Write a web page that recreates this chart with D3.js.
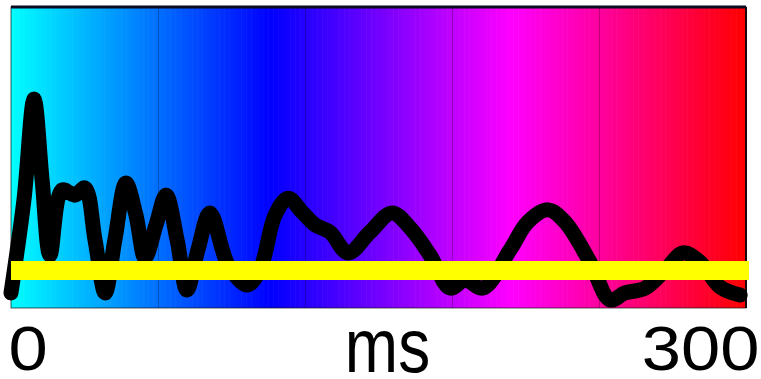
<!DOCTYPE html>
<html>
<head>
<meta charset="utf-8">
<script src="https://cdn.jsdelivr.net/npm/d3@7"></script>
<style>
  body { margin: 0; background: #fff; }
  svg { display: block; }
</style>
</head>
<body>
<div id="chart"></div>
<script>
// data (ms, amplitude in arbitrary units 0-100)
const timeMs = [0, 5.3, 9.4, 12.7, 15.9, 20.8, 26.1, 30.2, 34.3, 38.4, 42.4, 46.9, 51, 54.7, 59.2, 63.3, 67.8, 71.8, 76.3, 81.2, 88.6, 96.3, 101.6, 107.8, 113.1, 118.8, 124.1, 130.2, 137.6, 146.5, 155.5, 162.9, 171, 179.2, 185.3, 192.7, 203.7, 211, 219.2, 226.1, 236.3, 244.5, 250.6, 258.8, 267, 274.3, 281.2, 289.4, 297.6];
const amplitude = [5, 36, 69.4, 42.5, 17.6, 39.2, 37.5, 39.9, 22.6, 5, 22.6, 41.5, 30.9, 16.6, 27.6, 37.5, 22.6, 6, 19.3, 31.6, 14.3, 7.6, 12.6, 30.9, 36.5, 31.9, 27.6, 25.2, 18.3, 25.2, 31.6, 26.6, 17.6, 6.6, 9.3, 6.6, 19.3, 28.6, 32.6, 28.6, 15.3, 2.7, 5, 6.6, 12.6, 18.3, 15.3, 7, 4.3];
const threshold = 12.5;
const gridTicks = [60, 120, 180, 240];
const labelTicks = [0, 300];
const axisTitle = "ms";
const colorStops = [0, 106, 204, 300];
const colorRange = ["#00ffff", "#0000ff", "#ff00ff", "#ff0000"];

const W = 761, H = 379;
const margin = {top: 7, right: 15, bottom: 71, left: 11};
const width = W - margin.left - margin.right;
const height = H - margin.top - margin.bottom;
const font = "Liberation Sans, Arial, sans-serif";

const svg = d3.select("#chart").append("svg")
    .attr("width", W)
    .attr("height", H)
  .append("g")
    .attr("transform", `translate(${margin.left},${margin.top})`);

const x = d3.scaleLinear().domain([0, 300]).range([0, width]);
const y = d3.scaleLinear().domain([0, 100]).range([height, 0]);
const color = d3.scaleLinear().domain(colorStops).range(colorRange);

// colour strips behind the trace
const strips = d3.range(0, 300, 1);
svg.selectAll(".strip")
    .data(strips)
    .enter().append("rect")
    .attr("class", "strip")
    .attr("x", d => x(d))
    .attr("y", 0)
    .attr("width", x(1) - x(0) + 0.6)
    .attr("height", height)
    .attr("fill", d => color(d + 0.5));

// faint grid lines
svg.append("g")
    .attr("transform", `translate(0,${height})`)
    .call(d3.axisBottom(x).tickValues(gridTicks).tickSize(-height).tickFormat(""))
    .call(g => g.select(".domain").remove())
    .call(g => g.selectAll("line").attr("stroke", "#000").attr("stroke-opacity", 0.25));

// frame
svg.append("rect")
    .attr("width", width)
    .attr("height", height)
    .attr("fill", "none")
    .attr("stroke", "#111")
    .attr("stroke-opacity", 0.7)
    .attr("stroke-width", 1);
svg.append("line")
    .attr("x1", 0).attr("x2", width)
    .attr("y1", 0).attr("y2", 0)
    .attr("stroke", "#0a0a20")
    .attr("stroke-width", 3);
svg.append("line")
    .attr("x1", width).attr("x2", width)
    .attr("y1", 0).attr("y2", height)
    .attr("stroke", "#1a0a10")
    .attr("stroke-width", 2);

// trace
const points = timeMs.map((t, i) => [t, amplitude[i]]);
const line = d3.line()
    .x(d => x(d[0]))
    .y(d => y(d[1]))
    .curve(d3.curveCatmullRom);

svg.append("path")
    .datum(points)
    .attr("fill", "none")
    .attr("stroke", "#000")
    .attr("stroke-width", 15)
    .attr("stroke-linejoin", "round")
    .attr("stroke-linecap", "round")
    .attr("d", line);

// yellow threshold
svg.append("line")
    .attr("x1", x(0)).attr("x2", x(300) + 3)
    .attr("y1", y(threshold)).attr("y2", y(threshold))
    .attr("stroke", "#ffff00")
    .attr("stroke-width", 19);

// labels
const axis = svg.append("g")
    .attr("transform", `translate(0,${height})`)
    .call(d3.axisBottom(x).tickValues(labelTicks).tickSize(0).tickPadding(0).tickFormat(d3.format("d")));
axis.select(".domain").remove();
axis.selectAll("text")
    .attr("dy", null)
    .attr("x", 0)
    .attr("y", 0)
    .attr("transform", (d, i) => i === 0 ? "translate(-3,62) scale(1.12,1)" : "translate(13,62) scale(1.12,1)")
    .attr("font-family", font)
    .attr("font-size", "63px")
    .attr("fill", "#000")
    .attr("text-anchor", (d, i) => i === 0 ? "start" : "end");

svg.append("text")
    .attr("transform", `translate(${width / 2 + 9},${height + 64}) scale(1,1.18)`)
    .attr("text-anchor", "middle")
    .attr("font-family", font)
    .attr("font-size", "64px")
    .attr("fill", "#000")
    .text(axisTitle);
</script>
</body>
</html>
